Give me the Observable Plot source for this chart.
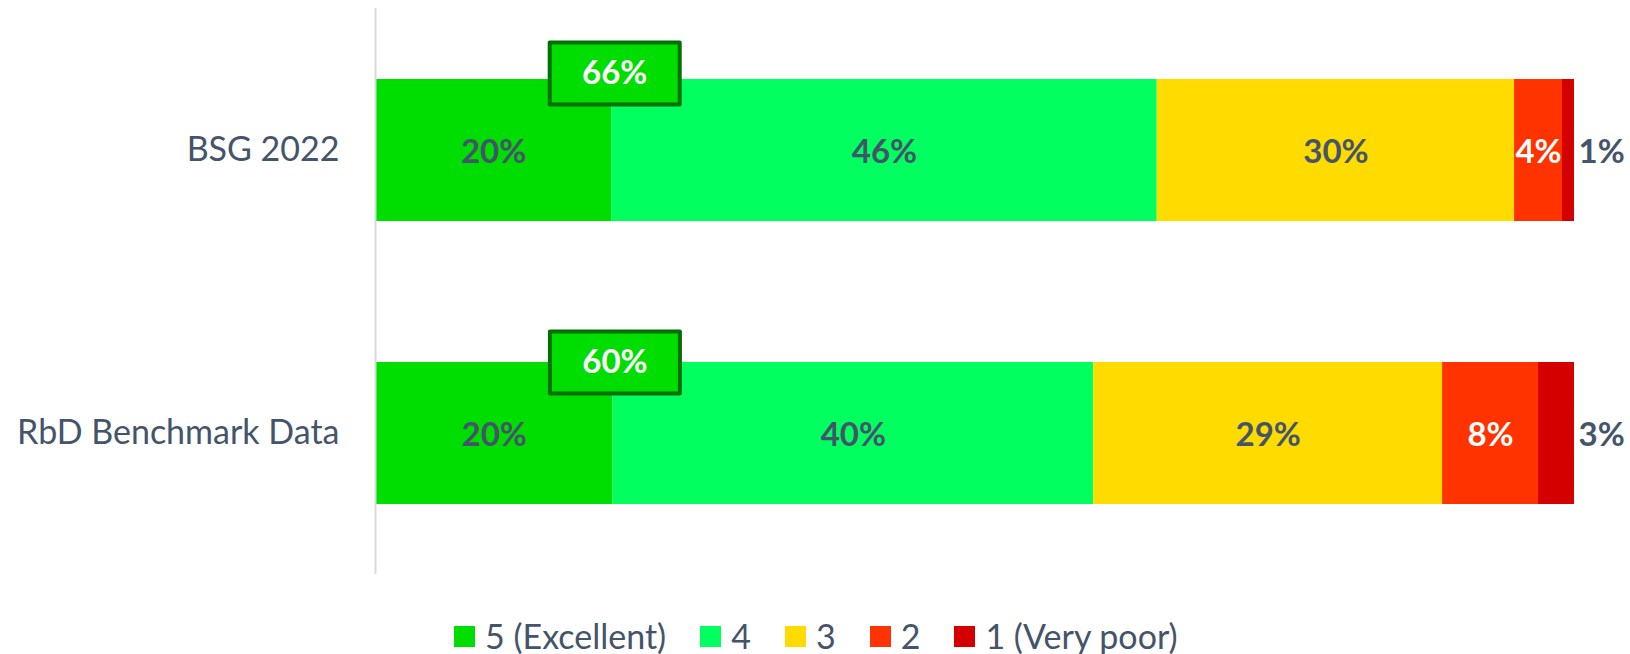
<!DOCTYPE html>
<html><head><meta charset="utf-8">
<script src="https://cdn.jsdelivr.net/npm/d3@7"></script>
<script src="https://cdn.jsdelivr.net/npm/@observablehq/plot@0.6"></script>
<style>
body{margin:0;background:#fff;width:1630px;height:654px;overflow:hidden;position:relative;font-family:Lato,"Open Sans",sans-serif;}
#legend{position:absolute;left:454px;top:616px;display:flex;align-items:center;font-size:34px;color:#44546a;line-height:40px;white-space:nowrap;}
#legend .item{display:flex;align-items:center;margin-right:34px;}
#legend .sw{width:21px;height:21px;margin-right:10px;}
</style></head>
<body>
<div id="chart"></div>
<div id="legend"></div>
<script>
const categories = ["BSG 2022", "RbD Benchmark Data"];
const ratings = ["5 (Excellent)", "4", "3", "2", "1 (Very poor)"];
const bsgValues = [19.7, 45.5, 29.8, 4.0, 1.0];
const rbdValues = [19.8, 40.1, 29.1, 8.0, 3.0];
const bsgLabels = ["20%", "46%", "30%", "4%", "1%"];
const rbdLabels = ["20%", "40%", "29%", "8%", "3%"];
const topTwoLabels = ["66%", "60%"];
const colors = ["#00dd00", "#00ff5f", "#ffdb00", "#ff3300", "#d40000"];
const labelColors = ["#44546a", "#44546a", "#44546a", "#ffffff", "#44546a"];

const seriesValues = [bsgValues, rbdValues];
const seriesLabels = [bsgLabels, rbdLabels];
const rows = [];
categories.forEach((cat, ci) => {
  let acc = 0;
  ratings.forEach((r, i) => {
    const v = seriesValues[ci][i];
    rows.push({cat, rating: r, idx: i, value: v, x1: acc, x2: acc + v, mid: acc + v / 2, label: seriesLabels[ci][i]});
    acc += v;
  });
});
const boxes = categories.map((cat, ci) => ({cat, x: seriesValues[ci][0], label: topTwoLabels[ci], dy: ci === 0 ? -77 : -71}));

const boxSymbol = {draw(ctx, size) { ctx.rect(-65, -31, 130, 62); }};
const LF = 33;

const chart = Plot.plot({
  width: 1630, height: 610,
  marginLeft: 375, marginRight: 56, marginTop: 8, marginBottom: 36,
  style: {fontFamily: "Lato, 'Open Sans', sans-serif", background: "transparent"},
  x: {domain: [0, 100], axis: null},
  y: {domain: categories, paddingInner: 0.5, paddingOuter: 0.25, label: null},
  color: {domain: ratings, range: colors},
  marks: [
    Plot.barX(rows, {x1: "x1", x2: "x2", y: "cat", fill: "rating"}),
    Plot.ruleX([0], {stroke: "#d9d9d9", strokeWidth: 2}),
    Plot.axisY({tickSize: 0, tickPadding: 36, fontSize: 34, fill: "#44546a", label: null}),
    Plot.text(rows.filter(d => d.idx < 4), {x: "mid", y: "cat", text: "label", dy: 2, fill: d => labelColors[d.idx], fontSize: LF, fontWeight: 700}),
    Plot.text(rows.filter(d => d.idx === 4), {x: "x2", y: "cat", text: "label", dx: 4, dy: 2, textAnchor: "start", fill: d => labelColors[d.idx], fontSize: LF, fontWeight: 700}),
    Plot.dot(boxes.slice(0,1), {x: "x", y: "cat", dy: boxes[0].dy, dx: 3, symbol: boxSymbol, fill: "#00dd00", stroke: "#007000", strokeWidth: 4, strokeLinejoin: "round"}),
    Plot.dot(boxes.slice(1), {x: "x", y: "cat", dy: boxes[1].dy, dx: 2, symbol: boxSymbol, fill: "#00dd00", stroke: "#007000", strokeWidth: 4, strokeLinejoin: "round"}),
    Plot.text(boxes.slice(0,1), {x: "x", y: "cat", dy: boxes[0].dy, dx: 3, text: "label", fill: "#ffffff", fontSize: LF, fontWeight: 700}),
    Plot.text(boxes.slice(1), {x: "x", y: "cat", dy: boxes[1].dy, dx: 2, text: "label", fill: "#ffffff", fontSize: LF, fontWeight: 700})
  ]
});
document.getElementById("chart").appendChild(chart);

const legend = document.getElementById("legend");
ratings.forEach((r, i) => {
  const item = document.createElement("div");
  item.className = "item";
  const sw = document.createElement("span");
  sw.className = "sw";
  sw.style.background = colors[i];
  const t = document.createElement("span");
  t.textContent = r;
  item.appendChild(sw); item.appendChild(t);
  legend.appendChild(item);
});
</script>
</body></html>
